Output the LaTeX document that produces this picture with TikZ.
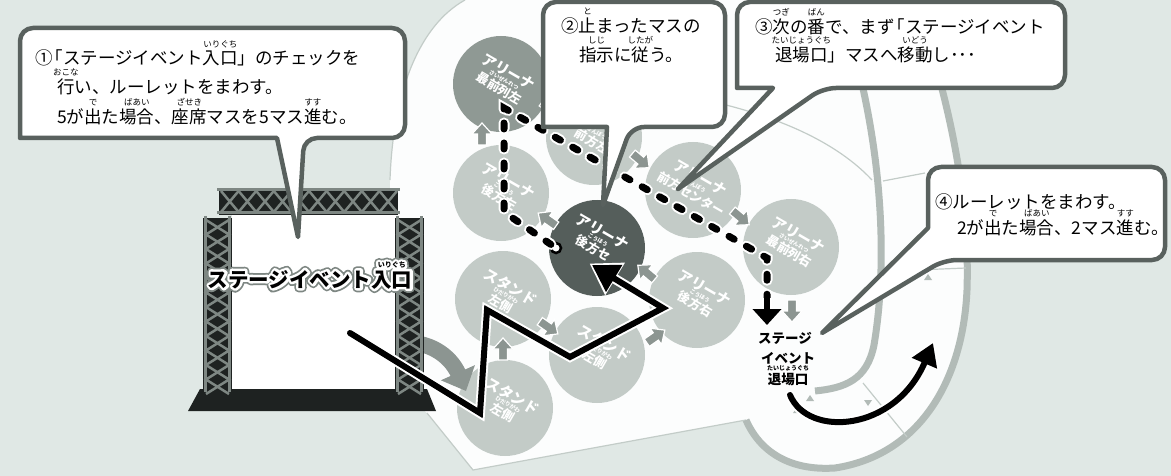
\documentclass[tikz,border=0pt]{standalone}
\usepackage{fontspec}
\setmainfont{Noto Sans CJK JP}
\usetikzlibrary{arrows.meta}
\definecolor{bg}{HTML}{E0E8E5}
\definecolor{board}{HTML}{FCFDFD}
\definecolor{cbord}{HTML}{59615E}
\definecolor{cirA}{HTML}{8F9994}
\definecolor{cirL}{HTML}{C3CBC7}
\definecolor{cirD}{HTML}{555E5B}
\definecolor{garr}{HTML}{8C9591}
\definecolor{band}{HTML}{B2BBB7}
\definecolor{truss}{HTML}{7E8783}
\definecolor{thinl}{HTML}{C3CCC8}
\definecolor{stblk}{HTML}{1E2221}
\newcommand{\rbsz}{8.5}
\newcommand{\rbgap}{4pt}
\newcommand{\rb}[2]{\leavevmode\setbox0\hbox{#1}\setbox2\hbox{\fontsize{\rbsz}{\rbsz}\selectfont #2}\rlap{\hbox to \wd0{\hss\raise\dimexpr\ht0+\rbgap\relax\box2\hss}}\box0}
\newcommand{\strk}[2]{\special{pdf:literal direct #1 w 1 J 1 j 2 Tr}#2\special{pdf:literal direct 0 Tr}}
\newcommand{\cname}[3]{{\fontsize{14.5}{14.5}\selectfont #1}\\[0pt]{\fontsize{5.5}{5.5}\selectfont #2}\\[0pt]{\fontsize{12.5}{12.5}\selectfont #3}}
\newcommand{\garrow}[3]{\fill[garr, draw=white, line width=1.2pt, shift={(#1,#2)}, rotate=#3] (-10,-4.5) -- (1,-4.5) -- (1,-10) -- (12,0) -- (1,10) -- (1,4.5) -- (-10,4.5) -- cycle;}
\newcommand{\stitle}{ステージイベント\rb{入口}{いりぐち}}
\tikzset{
  callout/.style={fill=white, draw=cbord, line width=4.5pt, line join=round},
  ctxt/.style={inner sep=0pt, font=\fontsize{17.5}{20}\selectfont, text=black},
  cir/.style={circle, minimum size=96pt, inner sep=0pt, draw=none, fill=#1},
  cnm/.style={inner sep=0pt, align=center, text=white, rotate=-30, font=\bfseries\fontsize{6}{6}\selectfont},
  stgtxt/.style={inner sep=0pt, anchor=base, font=\bfseries\fontsize{20.5}{21}\selectfont\renewcommand{\rbsz}{7}\renewcommand{\rbgap}{3pt}},
  exl/.style={inner sep=0pt, anchor=base, font=\bfseries\fontsize{13.5}{14}\selectfont\renewcommand{\rbsz}{6}\renewcommand{\rbgap}{2pt}},
  trussl/.style={draw=truss, line width=2.5pt},
  bandl/.style={draw=band, line width=7pt},
  thin/.style={draw=thinl, line width=1.2pt}
}
\begin{document}
\begin{tikzpicture}[x=1pt,y=-1pt]
\useasboundingbox (0,0) rectangle (1171,476);
\fill[bg] (0,0) rectangle (1171,476);
% board
\fill[board] (465,0) -- (915,0) .. controls (950,100) and (970,200) .. (967,290) .. controls (963,380) and (920,455) .. (835,468) .. controls (790,471) and (760,452) .. (746,420) -- (473,470) -- (427,413) -- (392,380) -- (390,180) .. controls (393,90) and (420,25) .. (465,0) -- cycle;
\draw[thin] (746,420) -- (473,470) -- (427,413);
\draw[thin] (390,180) .. controls (393,90) and (420,25) .. (465,0);
% track bands
\draw[bandl] (915,0) .. controls (950,100) and (970,200) .. (967,290) .. controls (963,380) and (920,455) .. (835,468) .. controls (790,471) and (760,452) .. (746,420);
\draw[bandl] (838,0) .. controls (880,120) and (890,250) .. (874,345) .. controls (867,380) and (845,388) .. (815,391);
\draw[thin] (883,181) -- (925,173);
\draw[thin] (917,270) -- (966,268);
\draw[thin] (863,383) -- (907,437);
\draw[thin] (705,100) .. controls (760,112) and (830,135) .. (872,180);
\fill[band] (928,274) -- (924,280) -- (932,280) -- cycle;
\fill[band] (868,406) -- (864,400) -- (872,400) -- cycle;
\fill[band] (810,395) -- (806,401) -- (814,401) -- cycle;
\fill[band] (797,407) -- (793,413) -- (801,413) -- cycle;
% circles
\node[cir=cirA] (cA) at (501,84) {};
\node[cir=cirL] (cB) at (594,137) {};
\node[cir=cirL] (cC) at (501,193) {};
\node[cir=cirD] (cX) at (597,248) {};
\node[cir=cirL] (cD) at (693,190) {};
\node[cir=cirL] (cE) at (791,247) {};
\node[cir=cirL] (cH) at (697,300) {};
\node[cir=cirL] (cF) at (503,299) {};
\node[cir=cirL] (cG) at (597,355) {};
\node[cir=cirL] (cI) at (505,408) {};
\node[cnm] (tA) at (504,80) {\cname{アリーナ}{さいぜんれつ}{最前列左}};
\node[cnm] (tB) at (597,133) {\cname{アリーナ}{ぜんぽう}{前方左}};
\node[cnm] (tC) at (504,189) {\cname{アリーナ}{こうほう}{後方左}};
\node[cnm] (tX) at (598,240) {\cname{アリーナ}{こうほう}{後方セ}};
\node[cnm] (tD) at (696,186) {\cname{アリーナ}{ぜんぽう}{前方センター}};
\node[cnm] (tE) at (794,243) {\cname{アリーナ}{さいぜんれつ}{最前列右}};
\node[cnm] (tH) at (700,296) {\cname{アリーナ}{こうほう}{後方右}};
\node[cnm] (tF) at (506,295) {\cname{スタンド}{ひだりがわ}{左側}};
\node[cnm] (tG) at (600,351) {\cname{スタンド}{ひだりがわ}{左側}};
\node[cnm] (tI) at (508,404) {\cname{スタンド}{ひだりがわ}{左側}};
% grey arrows
\garrow{550}{108}{-35}
\garrow{482}{135}{90}
\garrow{640}{160}{-40}
\garrow{740}{217}{-40}
\garrow{792}{310}{-90}
\garrow{548}{220}{145}
\garrow{647}{273}{140}
\garrow{655}{337}{35}
\garrow{548}{327}{-35}
\garrow{503}{350}{90}
% big grey curved arrow
\draw[garr, line width=16pt, -{Triangle[length=20pt, width=36pt]}] (400,343) .. controls (428,340) and (450,355) .. (466,391);
% stage
\fill[stblk] (200,389) -- (427,389) -- (436,411) -- (188,411) -- cycle;
\fill[white] (232,215) rectangle (395,389);
\fill[stblk] (219,188) rectangle (398,215);
\draw[trussl, line width=3pt] (217,190) -- (400,190) (217,213) -- (400,213);
\foreach \i in {0,...,4} {
  \draw[trussl] (221+35.2*\i,191) -- (238.6+35.2*\i,212) -- (256.2+35.2*\i,191);
  \draw[trussl] (221+35.2*\i,212) -- (238.6+35.2*\i,191) -- (256.2+35.2*\i,212);
}
\foreach \x in {203,395} {
  \fill[stblk] (\x,218) rectangle (\x+29,393);
  \draw[trussl, line width=3pt] (\x+2.5,216) -- (\x+2.5,392) (\x+26.5,216) -- (\x+26.5,392);
  \foreach \i in {0,...,5} {
    \draw[trussl] (\x+3,220+29*\i) -- (\x+26,234.5+29*\i) -- (\x+3,249+29*\i);
    \draw[trussl] (\x+26,220+29*\i) -- (\x+3,234.5+29*\i) -- (\x+26,249+29*\i);
  }
}
% stage title with outlined halo
\node[stgtxt, text=truss] (sgo) at (310,287) {\strk{8.5}{\stitle}};
\node[stgtxt, text=white] (swo) at (310,287) {\strk{5}{\stitle}};
\node[stgtxt, text=black] (stt) at (310,287) {\stitle};
% dotted route
\node[circle, draw=black, fill=white, line width=2.5pt, minimum size=10pt, inner sep=0pt] (ring) at (556,248) {};
\coordinate (d1) at (504,212);
\coordinate (d2) at (504,108);
\coordinate (d3) at (767,258);
\coordinate (d4) at (767,298);
\coordinate (d5) at (767,325);
\draw[white, line width=11pt, line cap=round, dash pattern=on 6pt off 14pt] (ring) -- (d1) -- (d2) -- (d3) -- (d4);
\draw[black, line width=7pt, line cap=round, dash pattern=on 6pt off 14pt] (ring) -- (d1) -- (d2) -- (d3) -- (d4);
\draw[white, line width=10pt, -{Triangle[length=18pt,width=32pt]}, shorten >=-2pt] (d4) -- (d5);
\draw[black, line width=6pt, -{Triangle[length=16pt,width=28pt]}] (d4) -- (d5);
% black zigzag route
\coordinate (z0) at (350,333);
\coordinate (z1) at (480,413);
\coordinate (z2) at (487,310);
\coordinate (z3) at (570,357);
\coordinate (z4) at (663,308);
\coordinate (z5) at (592,265);
\draw[white, line width=10pt, line cap=round, -{Triangle[length=30pt,width=36pt]}, shorten >=-3pt] (z0) -- (z1) -- (z2) -- (z3) -- (z4) -- (z5);
\draw[black, line width=6pt, line cap=round, -{Triangle[length=26pt,width=30pt]}] (z0) -- (z1) -- (z2) -- (z3) -- (z4) -- (z5);
% exit label
\node[exl] (ex1) at (785,343) {ステージ};
\node[exl] (ex2) at (788,363) {イベント};
\node[exl] (ex3) at (788,384) {\rb{退場口}{たいじょうぐち}};
% right curved arrow
\coordinate (r0) at (790,395);
\coordinate (r1) at (933,343);
\draw[white, line width=10pt, line cap=round, -{Triangle[length=26pt,width=32pt]}, shorten >=-3pt] (r0) .. controls (808,438) and (895,432) .. (r1);
\draw[black, line width=6pt, line cap=round, -{Triangle[length=22pt,width=26pt]}] (r0) .. controls (808,438) and (895,432) .. (r1);
% callouts
\draw[callout] (20,90) [rounded corners=13pt] -- (20,28) -- (405,28) -- (405,138) -- (304,138) [sharp corners] -- (298,237) -- (277,138) -- (20,138) [rounded corners=13pt] -- cycle;
\draw[callout] (543,60) [rounded corners=13pt] -- (543,2) -- (725,2) -- (725,127) -- (631,127) [sharp corners] -- (603,205) -- (607,127) -- (543,127) [rounded corners=13pt] -- cycle;
\draw[callout] (737,40) [rounded corners=13pt] -- (737,2) -- (1065,2) -- (1065,88) -- (823,88) [sharp corners] -- (678,189) -- (773,88) -- (737,88) [rounded corners=13pt] -- cycle;
\draw[callout] (1000,167) [rounded corners=13pt] -- (1165,167) -- (1165,260) -- (944,260) [sharp corners] -- (822,333) -- (928,228) [rounded corners=13pt] -- (928,167) -- cycle;
% callout texts
\node[ctxt, anchor=base west] (c1a) at (35,65) {①\kern-.4em「ステージイベント\rb{入口}{いりぐち}」のチェックを};
\node[ctxt, anchor=base west] (c1b) at (57,94) {\rb{行}{おこな}い、ルーレットをまわす。};
\node[ctxt, anchor=base west] (c1c) at (57,124) {5が\rb{出}{で}た\rb{場合}{ばあい}、\rb{座席}{ざせき}マスを5マス\rb{進}{すす}む。};
\node[ctxt, anchor=base] (c2a) at (631,33) {②\rb{止}{と}まったマスの};
\node[ctxt, anchor=base] (c2b) at (631,62) {\rb{指示}{しじ}に\rb{従}{したが}う。};
\node[ctxt, anchor=base west] (c3a) at (755,34) {③\rb{次}{つぎ}の\rb{番}{ばん}で、まず\kern-.4em「ステージイベント};
\node[ctxt, anchor=base west] (c3b) at (775,62) {\rb{退場口}{たいじょうぐち}」マスへ\rb{移動}{いどう}し･･･};
\node[ctxt, anchor=base west] (c4a) at (935,208) {④ルーレットをまわす。};
\node[ctxt, anchor=base west] (c4b) at (957,235) {2が\rb{出}{で}た\rb{場合}{ばあい}、2マス\rb{進}{すす}む。};
\end{tikzpicture}
\end{document}
